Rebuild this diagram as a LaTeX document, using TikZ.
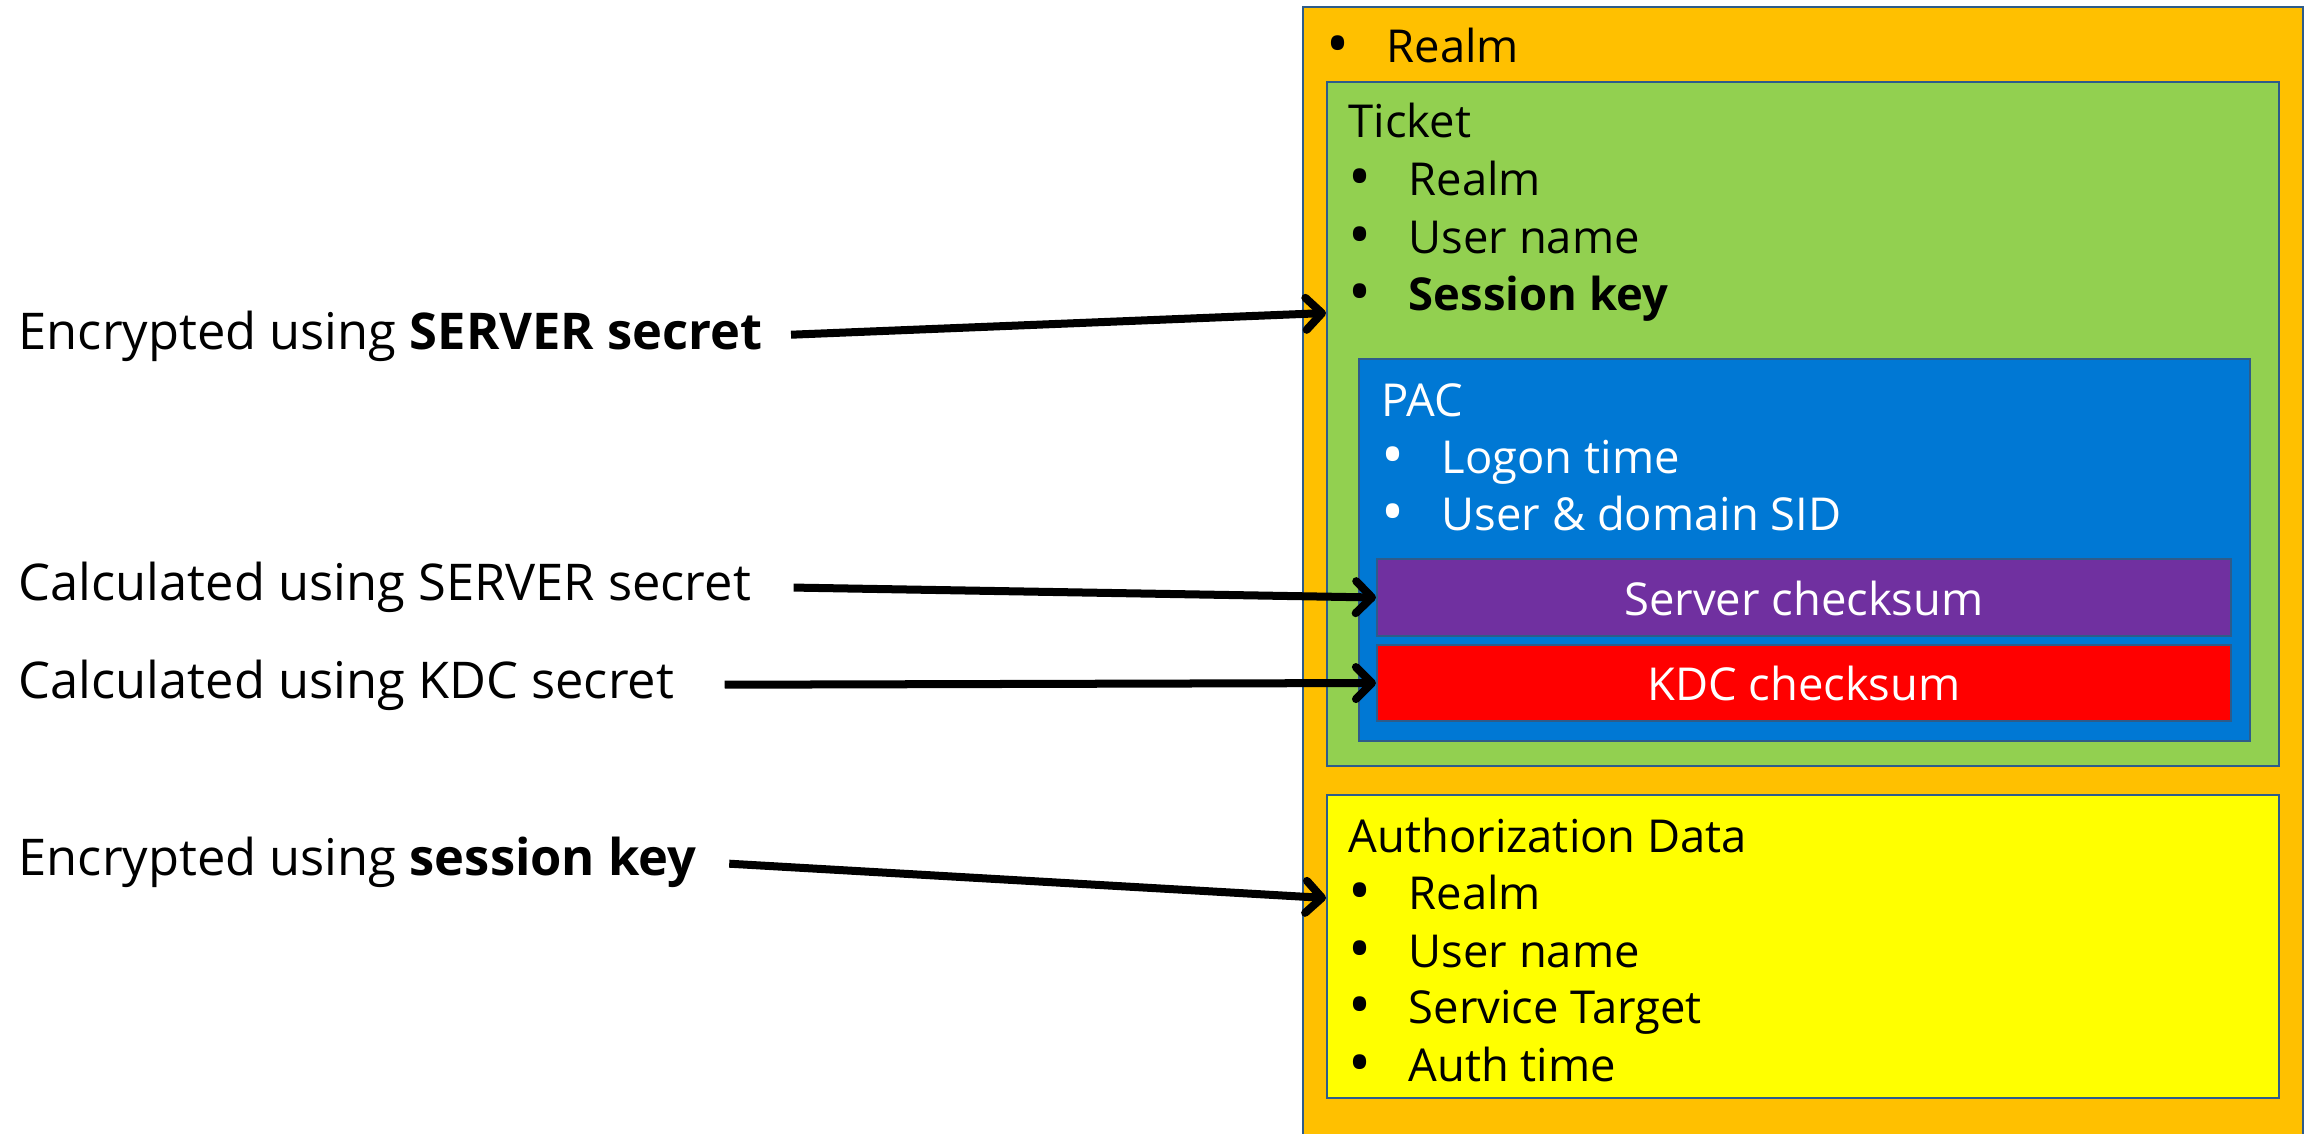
\documentclass[tikz,border=0pt]{standalone}
\usepackage{fontspec}
\setmainfont{Open Sans}
\usetikzlibrary{arrows.meta,fit}
\definecolor{realmorange}{HTML}{FFC000}
\definecolor{ticketgreen}{HTML}{92D050}
\definecolor{pacblue}{HTML}{0078D4}
\definecolor{srvpurple}{HTML}{7030A0}
\definecolor{kdcred}{HTML}{FF0000}
\definecolor{authyellow}{HTML}{FFFF00}
\definecolor{edgeblue}{HTML}{2E5C8A}
\tikzstyle{field}=[draw=edgeblue, line width=0.6pt, inner sep=0pt]
\tikzstyle{txt}=[anchor=base west, inner sep=0pt]
\tikzstyle{lbl}=[anchor=base west, inner sep=0pt, font=\fontsize{14.4}{17}\selectfont]
\tikzstyle{arr}=[line width=0.08cm, -{Straight Barb[length=0.16cm, width=0.32cm, round]}]
\newcommand{\bulletitem}{\makebox[0.6cm][l]{\raisebox{-0.15ex}{\scalebox{1.35}{\textbullet}}}}

\begin{document}
\begin{tikzpicture}[x=0.01cm, y=-0.01cm, font=\fontsize{12.9}{15}\selectfont]
    \useasboundingbox (0,0) rectangle (2315,1133);
    % nested boxes
    \node[field, fill=realmorange, line width=0.4pt, fit={(1303,7) (2303,1150)}] (realm) {};
    \node[field, fill=ticketgreen, fit={(1327,82) (2279,766)}]   (ticket) {};
    \node[field, fill=pacblue,     fit={(1359,359) (2250,741)}]  (pac) {};
    \node[field, fill=srvpurple,   fit={(1377,559) (2231,636)}]  (srvck) {};
    \node[field, fill=kdcred,      fit={(1377,645) (2231,721)}]  (kdcck) {};
    \node[field, fill=authyellow,  fit={(1327,795) (2279,1098)}] (authz) {};

    % box contents
    \node[txt] (realmitem) at (1326,62)  {\bulletitem Realm};
    \node[txt] (tkttitle)  at (1348,137) {Ticket};
    \node[txt] (tktrealm)  at (1348,195) {\bulletitem Realm};
    \node[txt] (tktuser)   at (1348,253) {\bulletitem User name};
    \node[txt] (tktkey)    at (1348,310) {\bulletitem \textbf{Session key}};
    \node[txt, text=white] (pactitle) at (1381,416) {PAC};
    \node[txt, text=white] (paclogon) at (1381,473) {\bulletitem Logon time};
    \node[txt, text=white] (pacsid)   at (1381,530) {\bulletitem User \& domain SID};
    \node[text=white, anchor=base] (srvtxt) at (1804,615) {Server checksum};
    \node[text=white, anchor=base] (kdctxt) at (1804,700) {KDC checksum};
    \node[txt] (authtitle) at (1348,852)  {Authorization Data};
    \node[txt] (authrealm) at (1348,909)  {\bulletitem Realm};
    \node[txt] (authuser)  at (1348,967)  {\bulletitem User name};
    \node[txt] (authsvc)   at (1348,1023) {\bulletitem Service Target};
    \node[txt] (authtime)  at (1348,1081) {\bulletitem Auth time};

    % labels on the left
    \node[lbl] (encsrv)  at (18,349) {Encrypted using \textbf{SERVER secret}};
    \node[lbl] (calcsrv) at (18,600) {Calculated using SERVER secret};
    \node[lbl] (calckdc) at (18,698) {Calculated using KDC secret};
    \node[lbl] (encsess) at (18,875) {Encrypted using \textbf{session key}};

    \coordinate (tktin)  at (1326,313);
    \coordinate (authin) at (1326,898);
    \draw[arr, shorten <=0.28cm] (encsrv.east)  -- (tktin);
    \draw[arr, shorten <=0.42cm] (calcsrv.east) -- (srvck.west);
    \draw[arr, shorten <=0.50cm] (calckdc.east) -- (kdcck.west);
    \draw[arr, shorten <=0.32cm] (encsess.east) -- (authin);
\end{tikzpicture}
\end{document}
